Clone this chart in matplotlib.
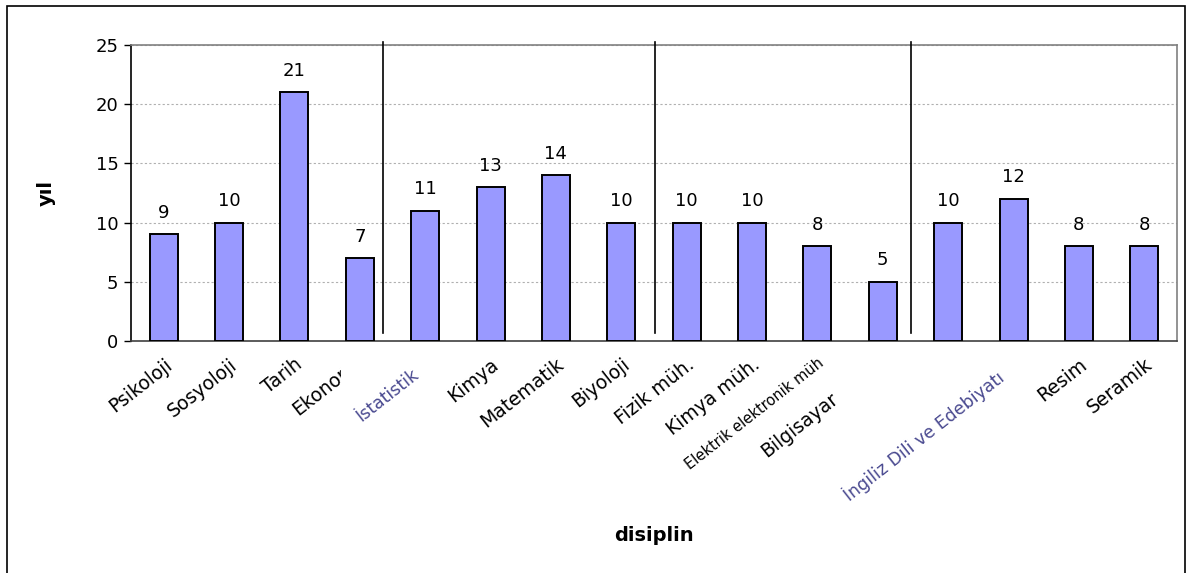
import matplotlib
matplotlib.use("Agg")
import matplotlib.pyplot as plt
import matplotlib.transforms as mtransforms
from matplotlib.patches import Rectangle

plt.rcParams['font.family'] = ['DejaVu Sans']

# data
disciplines = ['Psikoloji', 'Sosyoloji', 'Tarih', 'Ekonomi', 'İstatistik', 'Kimya',
               'Matematik', 'Biyoloji', 'Fizik müh.', 'Kimya müh.',
               'Elektrik elektronik müh', 'Bilgisayar', '', 'İngiliz Dili ve Edebiyatı',
               'Resim', 'Seramik']
years = [9, 10, 21, 7, 11, 13, 14, 10, 10, 10, 8, 5, 10, 12, 8, 8]
yticks = [0, 5, 10, 15, 20, 25]
# separators drawn between the discipline groups (category units)
separators = [3.35, 7.52, 11.43]

W, H = 1192, 573
fig = plt.figure(figsize=(W / 100, H / 100), dpi=100)
ax = fig.add_axes([131 / W, 1 - 341 / H, (1177 - 131) / W, (341 - 45) / H])

x = list(range(len(years)))
ax.bar(x, years, width=0.43, color='#9999FF', edgecolor='black', linewidth=1.4, zorder=3)

for xi, v in zip(x, years):
    ax.annotate(str(v), (xi, v), xytext=(0, 9), textcoords='offset points',
                ha='center', va='bottom', fontsize=13)

ax.set_xlim(-0.5, len(years) - 0.5)
ax.set_ylim(0, 25)
ax.set_yticks(yticks)
ax.tick_params(axis='y', labelsize=13, length=5, width=1, direction='out', pad=4)
ax.set_xticks(x)
ax.set_xticklabels(disciplines, rotation=38, ha='right', rotation_mode='anchor', fontsize=13.5)
ax.tick_params(axis='x', length=0, pad=10)

ax.yaxis.grid(True, linestyle=(0, (2, 2)), color='#b0b0b0', linewidth=0.8, zorder=0)
ax.set_axisbelow(True)

ax.spines['left'].set_color('black')
ax.spines['bottom'].set_color('#404040')
ax.spines['top'].set_color('#808080')
ax.spines['right'].set_color('#808080')
for s in ax.spines.values():
    s.set_linewidth(1.2)


def shift(label, dx_px, dy_px):
    label.set_transform(label.get_transform() +
                        mtransforms.ScaledTranslation(dx_px / 100, dy_px / 100, fig.dpi_scale_trans))


labels = ax.get_xticklabels()
# blurry labels rendered blue-ish in the original
for i in (4, 13):
    labels[i].set_color('#4a4a90')
    labels[i].set_fontsize(12.5)
shift(labels[4], -14, -10)
shift(labels[13], -18, -12)
# long label is squeezed in the original
labels[10].set_fontsize(10.5)
# Bilgisayar sits lower along its diagonal
shift(labels[11], -53, -34)
# Ekonomi label starts a bit further left
shift(labels[3], -8, 0)

ax.set_ylabel('yıl', fontsize=14, fontweight='bold')
ax.yaxis.set_label_coords(-0.072, 0.5)
ax.set_xlabel('disiplin', fontsize=14, fontweight='bold')
ax.xaxis.set_label_coords(0.5, -0.625)

# vertical separator lines
trans = mtransforms.blended_transform_factory(ax.transData, ax.transAxes)
for sx in separators:
    ax.plot([sx, sx], [0.027, 1.01], color='black', linewidth=1.2, transform=trans,
            clip_on=False, zorder=4)

# white patch hiding the end of "Ekonomi" as in the original
fig.patches.append(Rectangle((341 / W, 1 - 386 / H), 32 / W, 42 / H, transform=fig.transFigure,
                             facecolor='white', edgecolor='none', zorder=10))

# outer chart border
fig.patches.append(Rectangle((7 / W, -0.02), (1185 - 7) / W, 1 - 6 / H + 0.02,
                             transform=fig.transFigure, fill=False, edgecolor='black',
                             linewidth=1.2))

fig.savefig('out.png', dpi=100)
